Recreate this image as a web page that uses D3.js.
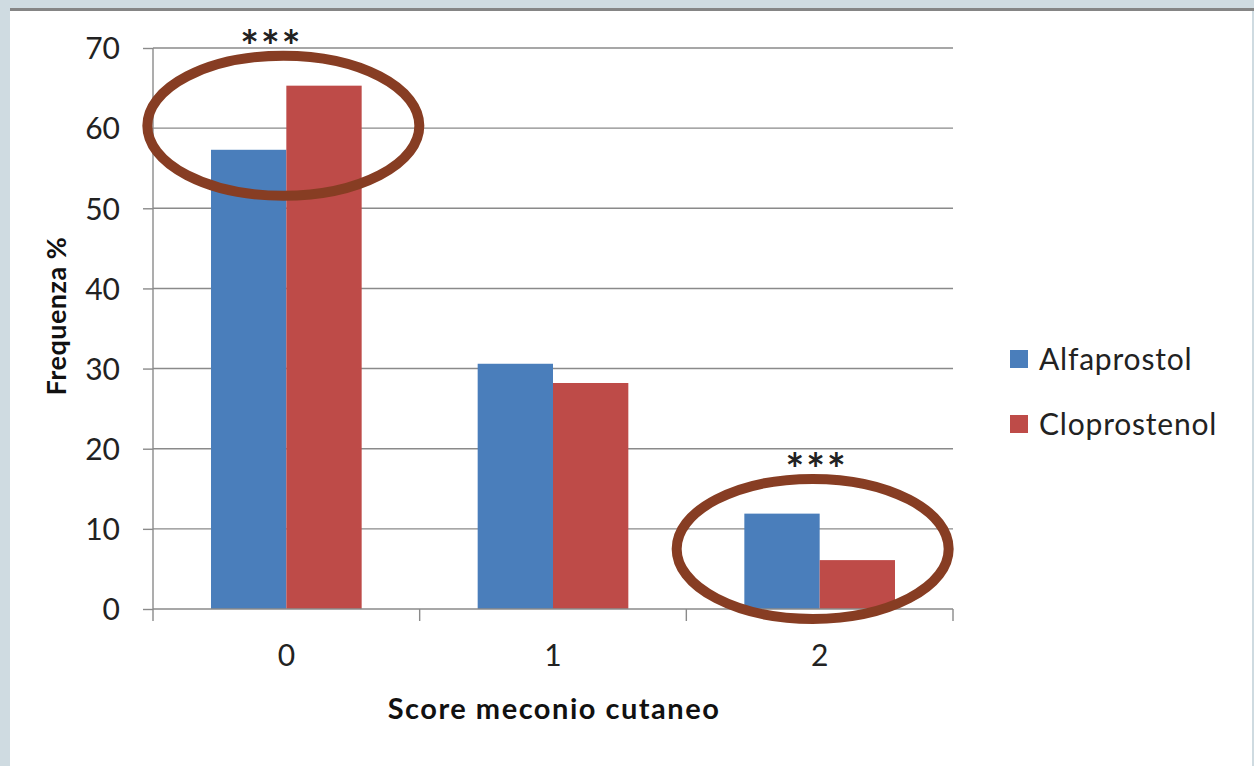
<!DOCTYPE html>
<html>
<head>
<meta charset="utf-8">
<script src="https://cdn.jsdelivr.net/npm/d3@7"></script>
<style>
  body { margin: 0; background: #cfdbe1; }
  svg { display: block; font-family: Lato, "Open Sans", sans-serif; }
</style>
</head>
<body>
<div id="chart"></div>
<script>
var categories = ["0", "1", "2"];
var series = ["Alfaprostol", "Cloprostenol"];
var alfaprostol = [57.3, 30.6, 11.9];
var cloprostenol = [65.3, 28.2, 6.1];
var yTicks = [0, 10, 20, 30, 40, 50, 60, 70];
// significant comparisons: category, ellipse centre (in %), stars height (in %)
var sigCategories = ["0", "2"];
var sigCentre = [60.3, 7.5];
var sigStars = [71.0, 18.2];

var WIDTH = 1254;
var HEIGHT = 766;
var LEFT = 153, RIGHT = 953, TOP = 48, BOTTOM = 609;
var COLORS = ["#4a7ebb", "#be4b48"];
var GRID = "#8a8a8a";
var FONT = "Lato, 'Open Sans', sans-serif";

var svg = d3.select("#chart").append("svg")
	.attr("width", WIDTH)
	.attr("height", HEIGHT);

// slide frame
svg.append("rect").attr("width", WIDTH).attr("height", HEIGHT).attr("fill", "#cfdbe1");
svg.append("rect").attr("x", 10).attr("y", 10).attr("width", WIDTH - 12).attr("height", HEIGHT - 10).attr("fill", "#fff");
svg.append("rect").attr("x", 10).attr("y", 8).attr("width", WIDTH - 10).attr("height", 3).attr("fill", "#858585");

var y = d3.scaleLinear().domain([0, 70]).range([BOTTOM, TOP]);
var x0 = d3.scaleBand().domain(categories).range([LEFT, RIGHT]).paddingInner(0).paddingOuter(0);
var x1 = d3.scaleBand().domain(series).range([0, x0.bandwidth()]).paddingInner(0).paddingOuter(0.77);

// gridlines
svg.append("g").selectAll("line")
	.data(yTicks.slice(1))
	.enter()
	.append("line")
	.attr("x1", LEFT)
	.attr("x2", RIGHT)
	.attr("y1", d => y(d))
	.attr("y2", d => y(d))
	.attr("stroke", GRID)
	.attr("stroke-width", 1.4);

// y axis
var yAxis = svg.append("g")
	.attr("transform", "translate(" + LEFT + ",0)")
	.call(d3.axisLeft(y).tickValues(yTicks).tickSize(10).tickPadding(23));
yAxis.attr("font-family", FONT).attr("font-size", 30);
yAxis.selectAll("line").attr("stroke", GRID).attr("stroke-width", 1.4);
yAxis.select(".domain").attr("stroke", GRID).attr("stroke-width", 1.4).attr("d", "M0," + TOP + "V" + BOTTOM);
yAxis.selectAll("text").attr("fill", "#222").attr("dy", "0.36em");

// bars
var rows = categories.map((c, i) => ({cat: c, values: [alfaprostol[i], cloprostenol[i]]}));
svg.append("g").selectAll("g")
	.data(rows)
	.enter()
	.append("g")
	.attr("transform", d => "translate(" + x0(d.cat) + ",0)")
	.selectAll("rect")
	.data(d => d.values.map((v, j) => ({s: series[j], v: v, color: COLORS[j]})))
	.enter()
	.append("rect")
	.attr("x", d => x1(d.s))
	.attr("y", d => y(d.v))
	.attr("width", x1.bandwidth())
	.attr("height", d => y(0) - y(d.v))
	.attr("fill", d => d.color);

// x axis
var xAxis = svg.append("g")
	.attr("transform", "translate(0," + BOTTOM + ")")
	.call(d3.axisBottom(x0).tickSize(0).tickPadding(36));
xAxis.attr("font-family", FONT).attr("font-size", 30);
xAxis.select(".domain").attr("stroke", GRID).attr("stroke-width", 1.4).attr("d", "M" + LEFT + ",0H" + RIGHT);
xAxis.selectAll("text").attr("fill", "#222");
xAxis.selectAll(".sep")
	.data(categories.map(c => x0(c)).concat([RIGHT]))
	.enter()
	.append("line")
	.attr("class", "sep")
	.attr("x1", d => d).attr("x2", d => d)
	.attr("y1", 0).attr("y2", 12)
	.attr("stroke", GRID)
	.attr("stroke-width", 1.4);

// axis titles
svg.append("text")
	.attr("x", 554)
	.attr("y", 719)
	.attr("text-anchor", "middle")
	.style("font-size", "29px")
	.style("font-weight", "bold")
	.style("letter-spacing", "1.5px")
	.attr("fill", "#111")
	.text("Score meconio cutaneo");

svg.append("text")
	.attr("transform", "translate(66,316) rotate(-90)")
	.attr("text-anchor", "middle")
	.style("font-size", "27px")
	.style("font-weight", "bold")
	.style("letter-spacing", "0.5px")
	.attr("fill", "#111")
	.text("Frequenza %");

// legend
var legend = svg.append("g").selectAll("g")
	.data(series)
	.enter()
	.append("g")
	.attr("transform", (d, i) => "translate(1010," + (350 + i * 65) + ")");
legend.append("rect")
	.attr("width", 18)
	.attr("height", 18)
	.attr("fill", (d, i) => COLORS[i]);
legend.append("text")
	.attr("x", 29)
	.attr("y", 20)
	.style("font-size", "30px")
	.style("letter-spacing", "0.8px")
	.attr("fill", "#222")
	.text(d => d);

// significance ellipses and stars
var sig = sigCategories.map((c, i) => ({cat: c, centre: sigCentre[i], stars: sigStars[i]}));
svg.append("g").selectAll("ellipse")
	.data(sig)
	.enter()
	.append("ellipse")
	.attr("cx", d => x0(d.cat) + x0.bandwidth() / 2 + (d.cat === "0" ? -3 : -7))
	.attr("cy", d => y(d.centre))
	.attr("rx", 136)
	.attr("ry", 70)
	.attr("fill", "none")
	.attr("stroke", "#873d23")
	.attr("stroke-width", 10);

svg.append("g").selectAll("text")
	.data(sig)
	.enter()
	.append("text")
	.attr("x", d => x0(d.cat) + x0.bandwidth() / 2 + (d.cat === "0" ? -15 : -3))
	.attr("y", d => y(d.stars) + 22)
	.attr("text-anchor", "middle")
	.style("font-size", "44px")
	.style("font-weight", "bold")
	.style("letter-spacing", "2px")
	.attr("fill", "#222")
	.text("***");
</script>
</body>
</html>
